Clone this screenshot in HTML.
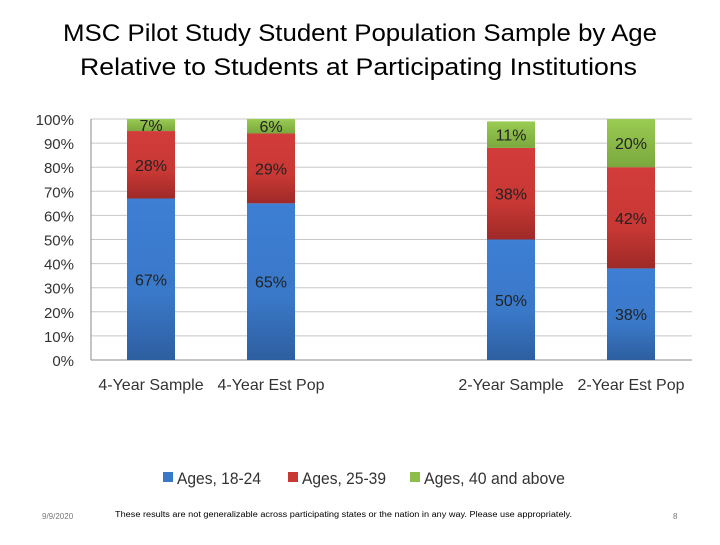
<!DOCTYPE html>
<html><head><meta charset="utf-8"><style>
body{margin:0;background:#fff;width:720px;height:540px;overflow:hidden;font-family:"Liberation Sans",sans-serif;}
</style></head><body>
<svg width="720" height="540" xmlns="http://www.w3.org/2000/svg">
<defs>
<linearGradient id="gb" x1="0" x2="0" y1="0" y2="1"><stop offset="0" stop-color="#3d7fd4"/><stop offset="0.6" stop-color="#3a78c8"/><stop offset="1" stop-color="#2d5fa0"/></linearGradient>
<linearGradient id="gr" x1="0" x2="0" y1="0" y2="1"><stop offset="0" stop-color="#d23c3a"/><stop offset="0.6" stop-color="#c83834"/><stop offset="1" stop-color="#9e2a28"/></linearGradient>
<linearGradient id="gg" x1="0" x2="0" y1="0" y2="1"><stop offset="0" stop-color="#9acb52"/><stop offset="1" stop-color="#7aa83e"/></linearGradient>
</defs>
<text x="63" y="41" font-size="24" fill="#000" textLength="594" lengthAdjust="spacingAndGlyphs">MSC Pilot Study Student Population Sample by Age</text>
<text x="80" y="75" font-size="24" fill="#000" textLength="557" lengthAdjust="spacingAndGlyphs">Relative to Students at Participating Institutions</text>
<g id="grid"></g><g id="bars"></g><g id="labels"></g>
<g font-size="17" fill="#333">
<rect x="163" y="472" width="10" height="10" fill="#3a78c8"/>
<text x="177" y="484" textLength="84" lengthAdjust="spacingAndGlyphs">Ages, 18-24</text>
<rect x="288" y="472" width="10" height="10" fill="#c83834"/>
<text x="302" y="484" textLength="84" lengthAdjust="spacingAndGlyphs">Ages, 25-39</text>
<rect x="410" y="472" width="10" height="10" fill="#8ebd4c"/>
<text x="424" y="484" textLength="141" lengthAdjust="spacingAndGlyphs">Ages, 40 and above</text>
</g>
<text x="42" y="519" font-size="8" fill="#777">9/9/2020</text>
<text x="115" y="517" font-size="8" fill="#000" textLength="457" lengthAdjust="spacingAndGlyphs">These results are not generalizable across participating states or the nation in any way. Please use appropriately.</text>
<text x="673" y="519" font-size="8" fill="#777">8</text>
</svg>
<script>
const categories=["4-Year Sample","4-Year Est Pop","","2-Year Sample","2-Year Est Pop"];
const ages1824=[67,65,null,50,38];
const ages2539=[28,29,null,38,42];
const ages40=[7,6,null,11,20];
const yTicks=[0,10,20,30,40,50,60,70,80,90,100];
const NS="http://www.w3.org/2000/svg";
const x0=91,slot=120,bw=48,yb=360,yt=119;
const Y=v=>yb-(Math.min(v,100)/100)*(yb-yt);
const X=i=>x0+slot*i+slot/2;
function mk(t,a,p){const e=document.createElementNS(NS,t);for(const k in a)e.setAttribute(k,a[k]);p.appendChild(e);return e;}
const grid=document.getElementById('grid'),bars=document.getElementById('bars'),labels=document.getElementById('labels');
yTicks.forEach(t=>{
 const l=mk('line',{x1:x0,x2:692,y1:Y(t),y2:Y(t),stroke:t===0?'#888':'#c8c8c8','stroke-width':1},grid);
 
 
 const tx=mk('text',{x:74,y:Y(t)+6,'text-anchor':'end','font-size':15,fill:'#333'},grid);
 tx.textContent=t+'%';
 
 
});
const ax=mk('line',{x1:x0,x2:x0,y1:yt,y2:yb,stroke:'#888'},grid);


const series=[[ages1824,'url(#gb)','18-24'],[ages2539,'url(#gr)','25-39'],[ages40,'url(#gg)','40-above']];
categories.forEach((c,i)=>{
 const cx=X(i);
 if(c){const t=mk('text',{x:cx,y:390,'text-anchor':'middle','font-size':16,fill:'#333'},labels);t.textContent=c;
 
 }
 if(ages1824[i]==null)return;
 let cum=0;
 series.forEach(([arr,fill,nm])=>{
  const v=arr[i];const a=Y(cum),b=Y(cum+v);cum+=v;
  const r=mk('rect',{x:cx-bw/2,y:b,width:bw,height:a-b,fill:fill},bars);
  
  
  const t=mk('text',{x:cx,y:(a+b)/2+6,'text-anchor':'middle','font-size':16,fill:'#222'},labels);
  t.textContent=v+'%';
  
  
 });
});
</script>
</body></html>
